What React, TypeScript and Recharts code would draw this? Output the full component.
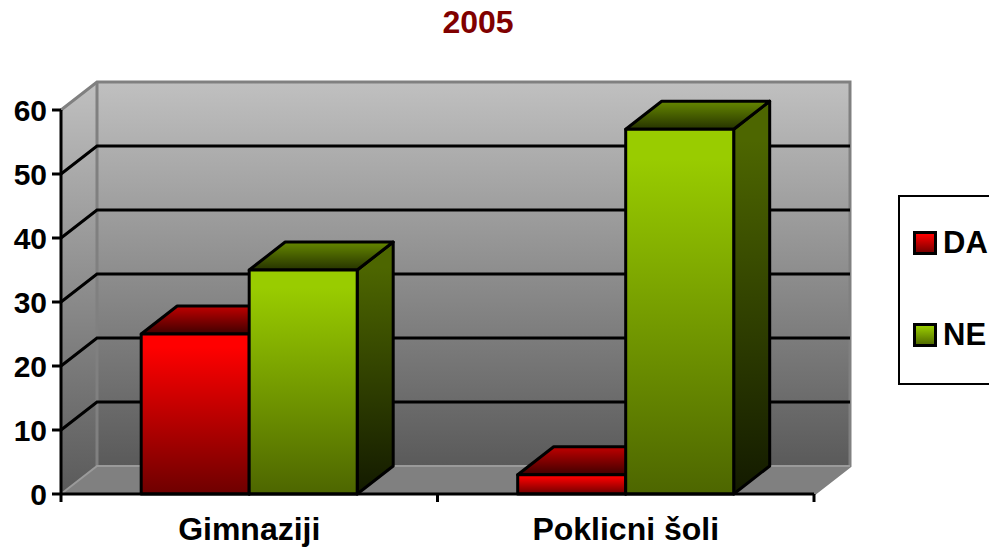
import { Bar, BarChart, CartesianGrid, Legend, XAxis, YAxis } from "recharts";

const categories = ["Gimnaziji", "Poklicni šoli"];
const daValues = [25, 3];
const neValues = [35, 57];
const yTicks = [0, 10, 20, 30, 40, 50, 60];

const chartData = categories.map((name, i) => ({ name, DA: daValues[i], NE: neValues[i] }));

const WIDTH = 989;
const HEIGHT = 547;
const PLOT_LEFT = 61;
const PLOT_RIGHT = 814;
const PLOT_TOP = 110;
const PLOT_BOTTOM = 494;
const LEGEND_WIDTH = 91;
const DX = 36;
const DY = 28;
const LINE = 3;
const FONT = "'Liberation Sans', Arial, sans-serif";
const EDGE = "#808080";

const LEGEND_COLORS: Record<string, string> = { DA: "url(#daFront)", NE: "url(#neFront)" };

const Box3D = ({ x, y, width, height, front, top, side }: any) => {
  const r = x + width;
  const b = y + height;
  return (
    <g stroke="#000" strokeWidth={LINE} strokeLinejoin="round">
      <path d={`M${r},${y} L${r + DX},${y - DY} L${r + DX},${b - DY} L${r},${b} Z`} fill={side} />
      <path d={`M${x},${y} L${x + DX},${y - DY} L${r + DX},${y - DY} L${r},${y} Z`} fill={top} />
      <rect x={x} y={y} width={width} height={height} fill={front} />
    </g>
  );
};

// back wall, side wall and floor are hung on the grid so they stay behind the bars
const GridLine = ({ x1, x2, y1, y, height, index }: any) => {
  const bottom = y + height;
  const isEdge = y1 <= y + 0.5 || y1 >= bottom - 0.5;
  return (
    <g>
      {index === 0 && (
        <g>
          <rect x={x1 + DX} y={y - DY} width={x2 - x1} height={height} fill="url(#wall)" />
          <path d={`M${x1},${bottom} L${x1},${y} L${x1 + DX},${y - DY} L${x1 + DX},${bottom - DY} Z`} fill="url(#wall)" />
          <path d={`M${x1},${bottom} L${x1 + DX},${bottom - DY} L${x2 + DX},${bottom - DY} L${x2},${bottom} Z`} fill="#808080" />
          <path
            d={`M${x1},${y} L${x1 + DX},${y - DY} L${x2 + DX},${y - DY} L${x2 + DX},${bottom - DY} L${x2},${bottom}`}
            fill="none"
            stroke={EDGE}
            strokeWidth={LINE}
          />
          <path d={`M${x1 + DX},${y - DY} L${x1 + DX},${bottom - DY}`} fill="none" stroke={EDGE} strokeWidth={LINE} />
          <path
            d={`M${x1},${bottom} L${x1 + DX},${bottom - DY} L${x2 + DX},${bottom - DY}`}
            fill="none"
            stroke="#9A9A9A"
            strokeWidth={2}
          />
        </g>
      )}
      {!isEdge && (
        <path
          d={`M${x1},${y1} L${x1 + DX},${y1 - DY} L${x2 + DX},${y1 - DY}`}
          fill="none"
          stroke="#000"
          strokeWidth={LINE}
        />
      )}
    </g>
  );
};

const CategoryTick = ({ x, y, payload }: any) => {
  const half = (PLOT_RIGHT - PLOT_LEFT) / categories.length / 2;
  return (
    <g>
      <line x1={x - half} x2={x - half} y1={PLOT_BOTTOM} y2={PLOT_BOTTOM + 8} stroke="#000" strokeWidth={LINE} />
      <line x1={x + half} x2={x + half} y1={PLOT_BOTTOM} y2={PLOT_BOTTOM + 8} stroke="#000" strokeWidth={LINE} />
      <text x={x} y={y + 38} textAnchor="middle" fontFamily={FONT} fontSize={32} fontWeight={700} fill="#000">
        {payload.value}
      </text>
    </g>
  );
};

const LegendBox = ({ payload }: any) => (
  <div
    style={{
      position: "relative",
      width: 130,
      height: 190,
      boxSizing: "border-box",
      border: "2px solid #000",
      background: "#fff",
      fontFamily: FONT,
      fontSize: 31,
      fontWeight: 700,
    }}
  >
    {(payload || []).map((entry: any, i: number) => (
      <div key={entry.value} style={{ position: "absolute", left: 13, top: 34 + i * 92, display: "flex", alignItems: "center", height: 24 }}>
        <svg width={24} height={24} style={{ display: "block" }}>
          <rect x={1.5} y={1.5} width={21} height={21} fill={LEGEND_COLORS[entry.value]} stroke="#000" strokeWidth={LINE} />
        </svg>
        <span style={{ marginLeft: 6, lineHeight: "28px" }}>{entry.value}</span>
      </div>
    ))}
  </div>
);

export default function App() {
  return (
    <div style={{ position: "absolute", left: 0, top: 0, width: WIDTH, height: HEIGHT, overflow: "hidden", background: "#fff" }}>
      <BarChart
        width={WIDTH}
        height={HEIGHT}
        data={chartData}
        margin={{ top: PLOT_TOP, right: WIDTH - PLOT_RIGHT - LEGEND_WIDTH, bottom: 0, left: 0 }}
        barCategoryGap="21.3%"
        barGap={0}
      >
        <defs>
          <linearGradient id="wall" x1="0" y1="0" x2="0" y2="1">
            <stop offset="0%" stopColor="#C0C0C0" />
            <stop offset="100%" stopColor="#5A5A5A" />
          </linearGradient>
          <linearGradient id="daFront" x1="0" y1="0" x2="0" y2="1">
            <stop offset="0%" stopColor="#FF0000" />
            <stop offset="8%" stopColor="#FF0000" />
            <stop offset="100%" stopColor="#6E0000" />
          </linearGradient>
          <linearGradient id="daTop" x1="0" y1="0" x2="0" y2="1">
            <stop offset="0%" stopColor="#C00000" />
            <stop offset="100%" stopColor="#400000" />
          </linearGradient>
          <linearGradient id="daSide" x1="0" y1="0" x2="0" y2="1">
            <stop offset="0%" stopColor="#800000" />
            <stop offset="100%" stopColor="#300000" />
          </linearGradient>
          <linearGradient id="neFront" x1="0" y1="0" x2="0" y2="1">
            <stop offset="0%" stopColor="#99CC00" />
            <stop offset="8%" stopColor="#99CC00" />
            <stop offset="100%" stopColor="#4D6600" />
          </linearGradient>
          <linearGradient id="neTop" x1="0" y1="0" x2="0" y2="1">
            <stop offset="0%" stopColor="#668800" />
            <stop offset="100%" stopColor="#263300" />
          </linearGradient>
          <linearGradient id="neSide" x1="0" y1="0" x2="0" y2="1">
            <stop offset="0%" stopColor="#4D6600" />
            <stop offset="10%" stopColor="#4D6600" />
            <stop offset="100%" stopColor="#131A00" />
          </linearGradient>
        </defs>
        <text x={478} y={33} textAnchor="middle" fontFamily={FONT} fontSize={32} fontWeight={700} fill="#800000">
          2005
        </text>
        <CartesianGrid vertical={false} horizontal={(props: any) => <GridLine {...props} />} />
        <XAxis
          dataKey="name"
          height={HEIGHT - PLOT_BOTTOM}
          interval={0}
          tickLine={false}
          tick={CategoryTick}
          axisLine={{ stroke: "#000", strokeWidth: LINE }}
        />
        <YAxis
          width={PLOT_LEFT}
          domain={[0, 60]}
          ticks={yTicks}
          interval={0}
          tickSize={9}
          tickMargin={5}
          axisLine={{ stroke: "#000", strokeWidth: LINE }}
          tickLine={{ stroke: "#000", strokeWidth: LINE }}
          tick={{ fill: "#000", fontFamily: FONT, fontSize: 30, fontWeight: 700 }}
        />
        <Legend
          layout="vertical"
          align="right"
          verticalAlign="middle"
          content={<LegendBox />}
          wrapperStyle={{ position: "absolute", left: 898, top: 195, width: LEGEND_WIDTH, height: 190 }}
        />
        <Bar
          dataKey="DA"
          fill="#FF0000"
          isAnimationActive={false}
          shape={(p: any) => <Box3D {...p} front="url(#daFront)" top="url(#daTop)" side="url(#daSide)" />}
        />
        <Bar
          dataKey="NE"
          fill="#99CC00"
          isAnimationActive={false}
          shape={(p: any) => <Box3D {...p} front="url(#neFront)" top="url(#neTop)" side="url(#neSide)" />}
        />
      </BarChart>
    </div>
  );
}
